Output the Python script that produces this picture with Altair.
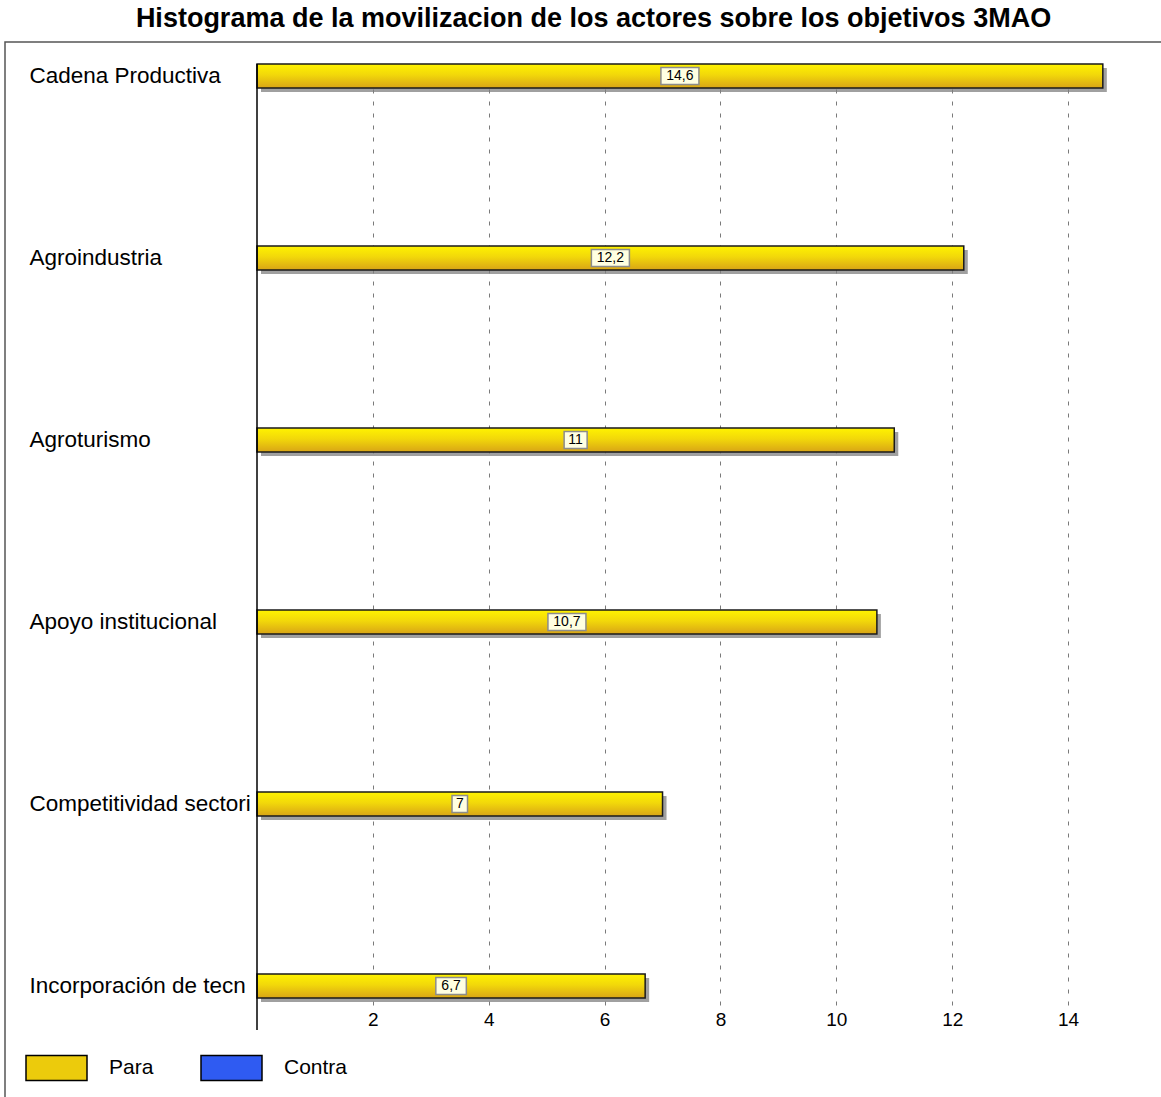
import altair as alt
import pandas as pd

categories = ["Cadena Productiva", "Agroindustria", "Agroturismo",
              "Apoyo institucional", "Competitividad sectori", "Incorporación de tecn"]
para_values = [14.6, 12.2, 11.0, 10.7, 7.0, 6.7]
contra_values = [0, 0, 0, 0, 0, 0]
series = ["Para", "Contra"]
x_ticks = [2, 4, 6, 8, 10, 12, 14]
title_text = "Histograma de la movilizacion de los actores sobre los objetivos 3MAO"

df = pd.DataFrame({"actor": categories, "para": para_values, "contra": contra_values})
legend_df = pd.DataFrame({"serie": series})

FONT = "Liberation Sans"
PX = 57.9          # pixels per unit on x
W = 869            # plot width (domain 0..15)
H = 941            # plot height
LEFT, TOP = 257, 64

x_scale = alt.Scale(domain=[0, 15], nice=False, zero=True)
y_scale = alt.Scale(domain=categories, paddingInner=0.868, paddingOuter=0.019, align=0)

x_axis = alt.Axis(values=x_ticks, grid=True, gridDash=[4, 8], gridColor="#7a7a7a", gridWidth=1,
                  domain=False, ticks=False, labelFontSize=19, labelPadding=5, labelFont=FONT,
                  labelColor="black", title=None, orient="bottom")
y_axis = alt.Axis(domain=False, ticks=False, tickSize=0, labelAlign="left", labelPadding=228,
                  labelFontSize=22.5, labelFont=FONT, labelColor="black", labelLimit=400,
                  title=None, grid=False)

base = alt.Chart(df)

frame = base.transform_filter("datum.actor == 'Cadena Productiva'").mark_rect(
    fillOpacity=0, stroke="#555555", strokeWidth=1.5
).encode(
    x=alt.value(5 - LEFT), x2=alt.value(1161 - LEFT + 20),
    y=alt.value(42 - TOP), y2=alt.value(1097 - TOP + 20)
)

shadow = base.mark_bar(color="#808080", opacity=0.75, xOffset=4, yOffset=4).encode(
    x=alt.X("para:Q", scale=x_scale, axis=x_axis),
    y=alt.Y("actor:N", scale=y_scale, axis=y_axis, sort=categories),
)

grad = alt.Gradient(
    gradient="linear", x1=0, y1=0, x2=0, y2=1,
    stops=[alt.GradientStop(color="#FFF300", offset=0),
           alt.GradientStop(color="#F2D80A", offset=0.45),
           alt.GradientStop(color="#D8A416", offset=1)],
)
bars = base.mark_bar(fill=grad, stroke="#1a1a1a", strokeWidth=1.5).encode(
    x=alt.X("para:Q", scale=x_scale, axis=x_axis),
    y=alt.Y("actor:N", scale=y_scale, axis=y_axis, sort=categories),
)

yline = base.transform_filter("datum.actor == 'Cadena Productiva'").mark_rule(
    color="black", strokeWidth=1.5
).encode(
    x=alt.datum(0, scale=x_scale, axis=x_axis),
    y=alt.value(0), y2=alt.value(1030 - TOP),
)

labeled = base.transform_calculate(
    label="replace(format(datum.para, '.1~f'), '.', ',')"
).transform_calculate(
    mid="datum.para / 2",
    half="(7.5 * length(datum.label) + 8) / 2 / %f" % PX,
).transform_calculate(
    x0="datum.mid - datum.half",
    x1="datum.mid + datum.half",
)

boxes = labeled.mark_bar(height=17, fill="#FFFFE1", stroke="#8c8c8c", strokeWidth=1.5).encode(
    x=alt.X("x0:Q", scale=x_scale, axis=x_axis),
    x2="x1:Q",
    y=alt.Y("actor:N", scale=y_scale, axis=y_axis, sort=categories),
)

texts = labeled.mark_text(fontSize=14, font=FONT, color="black").encode(
    x=alt.X("mid:Q", scale=x_scale, axis=x_axis),
    y=alt.Y("actor:N", scale=y_scale, axis=y_axis, sort=categories),
    text="label:N",
)

legend_layer = alt.Chart(legend_df).mark_point(filled=True, opacity=0).encode(
    color=alt.Color(
        "serie:N",
        scale=alt.Scale(domain=series, range=["#ECCB0C", "#2F5BF2"]),
        legend=alt.Legend(
            orient="none", legendX=5 + 20 - LEFT, legendY=1055 - TOP - 19,
            direction="horizontal", title=None,
            symbolType="M-1,-0.41H1V0.41H-1Z", symbolSize=3721,
            symbolStrokeColor="black", symbolStrokeWidth=1.5, symbolOpacity=1,
            labelFontSize=21, labelFont=FONT, labelColor="black",
            labelOffset=21, columnPadding=44,
        ),
    ),
    x=alt.value(0), y=alt.value(0),
)

chart = alt.layer(frame, shadow, bars, yline, boxes, texts, legend_layer).properties(
    width=W, height=H,
    title=alt.Title(title_text, fontSize=27, font=FONT, fontWeight="bold", anchor="middle",
                    dx=-98, dy=14, color="black", offset=22),
    padding={"left": LEFT, "top": TOP, "right": 1161 - LEFT - W, "bottom": 1097 - TOP - H},
    autosize=alt.AutoSizeParams(type="none"),
).configure(background="white").configure_view(stroke=None)

chart.save("out.html", embed_options={"renderer": "svg", "actions": False})
